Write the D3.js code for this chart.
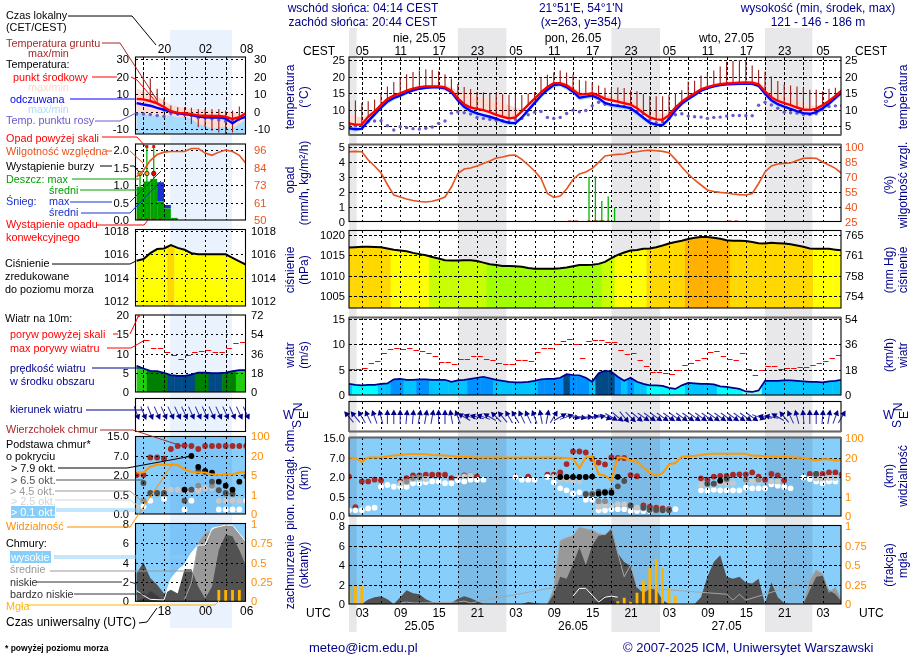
<!DOCTYPE html>
<html>
<head>
<meta charset="utf-8">
<script src="https://cdn.jsdelivr.net/npm/d3@7"></script>
<style>
  body { margin: 0; background: #fff; }
  svg { display: block; font-family: "Liberation Sans", Arial, sans-serif; font-size: 12px; }
</style>
</head>
<body>
<svg id="chart" width="910" height="660"></svg>
<script>
// ---- data, hourly, main panels (hour 1 = 01 UTC 25.05) ----
const tempMid = [5.8,5.4,5.5,7.8,9.4,11.4,13.2,14.2,14.9,15.7,
  16.3,16.8,17,17,17,16.7,15.7,13.4,11.6,10.6,
  10.2,9.8,9.2,8.4,7.8,7.3,7.6,9.4,11.4,13.3,
  15.2,16.8,18,18,17.3,16,14.5,14.6,14.9,14.2,
  13.2,12.8,12.4,11.9,11.5,10.4,8.9,7.6,7,6.9,
  8.3,10.6,12.4,13.7,14.9,16.1,16.8,17.3,17.7,17.9,
  18,18.1,18.2,18.1,17.6,15.5,13.7,12.6,11.9,11.3,
  10.6,10,9.9,10.2,11.3,12.6,14.1,15.8];
const tempMax = [8,8,7.6,8.4,9.9,11.8,13.6,14.6,15.2,16,
  16.6,17.1,17.4,17.5,17.6,17.4,16.8,15.6,14.8,14.3,
  13.9,13.5,13,12.7,12.2,11.3,10.5,10.2,11.8,13.7,
  15.6,17.2,18.3,18.4,18,17,15.6,15.2,15.4,15,
  14.2,14,13.8,13.4,13,12.2,11,9.8,9,8.6,
  9.2,11,12.8,14.1,15.3,16.5,17.2,17.7,18.1,18.4,
  18.6,18.7,18.8,18.7,18.3,17,15.7,14.7,14,13.4,
  12.8,12,11.3,11.1,11.8,13,14.5,16.1];
const feltMid = [4.3,4,4.2,6.5,8.5,10.6,12.4,13.5,14.2,15.1,
  15.8,16.3,16.6,16.7,16.7,16.4,15.3,12.8,10.8,9.6,
  8.8,8.3,7.8,7.2,6.5,6,5.9,7.6,9.8,12,
  14.2,16,17.4,17.6,16.8,15.4,13.6,13.9,14.2,13.4,
  12,11.4,11.1,10.8,10.4,9,7.5,6,5.4,5.3,
  7.2,9.8,11.8,13.2,14.4,15.7,16.5,17,17.4,17.6,
  17.7,17.8,17.9,17.8,17.2,14.8,12.8,11.6,10.9,10.2,
  9.5,8.9,8.7,9.2,10.4,11.8,13.5,15.2];
const feltMin = [3.6,3.3,3.6,5.7,7.7,9.9,11.6,12.8,13.6,14.5,
  15.3,15.8,16.2,16.3,16.3,15.8,14.6,12,9.9,8.7,
  8,7.5,7,6.4,5.7,5.2,5.2,6.8,9,11.2,
  13.4,15.2,16.6,17,16,14.6,12.8,13.1,13.4,12.6,
  11.2,10.6,10.3,10,9.5,8.1,6.6,5.2,4.6,4.6,
  6.4,9,11,12.5,13.8,15.2,16,16.6,17,17.2,
  17.3,17.4,17.5,17.4,16.6,14,12,10.9,10.2,9.5,
  8.8,8.2,8,8.4,9.6,11,12.7,14.4];
const groundMax = [12.5,12.7,12,12.5,13,14.6,17,18.3,19.5,20.7,
  21.4,21.8,22.2,22,21.6,20.7,19.4,17.7,16.8,16.2,
  15.3,15.2,15,14.8,14.6,14.5,14.4,14.4,14.8,15.3,
  19.5,20.5,21.2,21.8,21.2,20.6,19,18.7,18.2,17.3,
  16.6,16.5,16.7,16.5,15.8,15.5,14.7,14.1,14,14,
  14.4,15,15.8,18.5,18.7,20.3,21,21.8,23,24.5,
  24.7,25,24.8,23.3,22,21.5,20,18.6,17.6,17.3,
  17,16.5,16,16,15.5,16.3,16.6,16];
const dewPoint = [5.2,5,5.2,6.3,6.5,6.6,5.1,3.8,4.8,4.5,
  4.2,4.1,4.3,4.7,5.8,6.5,8.9,9.3,9,8.6,
  7.6,7.3,7,6.7,6.6,6.3,7,7.3,8.4,9.2,
  9.4,7.6,7.3,7.6,8.8,9.8,9.3,9.7,11.1,12.2,
  11.6,11.4,11.2,10.9,10.4,9.4,8.7,6.8,6,6.3,
  7.3,8.4,8.7,8,7.8,7.7,7.3,7.6,7.7,8,
  8.2,8.2,8.1,8.1,11.3,12.2,11.4,10.4,9.2,9,
  8.9,8.5,8.5,8.7,9.9,10.9,11.1,11.1];
const humidity = [95.3,95.6,95.3,87,81,74,62.5,52,50,48,
  46.5,45.5,45,45.8,47.4,50,60,73.5,78,79,
  81,83.6,86,89,90,91.6,92,87.6,82,76,
  68.5,53.5,49.5,51,58,67.5,73,75,78.6,84.6,
  91,92,92.6,93,94.6,95.3,96.3,96.7,96.3,95.6,
  94.3,87.6,80,73,67,62,57,55.5,54.6,54,
  53,52.4,52,53.5,63.5,75,81,83,83.6,84,
  86.6,88.6,89,88.6,85,82,78.6,73.5];
const rainMaxHours = [38.5,39.5,40.5,41.5,42.5];
const rainMaxValues = [3,3.05,1.4,1.7,1];
const rainMeanHours = [39.5,40.5];
const rainMeanValues = [0.1,0.1];
const convectiveHours = [35.5,36.5,38.5,39.5,40.5,41.5,60.5,61.5];
const pressure = [1016.9,1017,1017.1,1017.1,1017.05,1017,1016.7,1016.4,1016.2,1016,
  1015.6,1015.3,1015,1014.6,1014.2,1013.8,1013.7,1013.7,1013.8,1013.8,
  1013.6,1013.2,1012.8,1012.6,1012.4,1012.4,1012.3,1012.2,1011.9,1011.7,
  1011.7,1011.7,1011.7,1011.8,1012,1012.3,1012.6,1012.6,1012.7,1012.9,
  1013.4,1014.3,1015.1,1015.7,1016.2,1016.3,1016.6,1016.7,1017,1017.4,
  1017.9,1018.3,1018.6,1019,1019.3,1019.5,1019.5,1019.3,1019.1,1018.7,
  1018.6,1018.6,1018.5,1018.3,1018,1017.9,1018.1,1018,1017.9,1017.7,
  1017.4,1017.1,1016.7,1016.6,1016.6,1016.6,1016.4,1016.2];
const windSpeed = [2.2,2,1.9,2,2,2.2,2.3,3.1,3.2,3,
  3,3.1,3.1,3,3,3,2.6,2.9,3,3.2,
  3.4,3.6,3.3,3,2.8,2.6,2.5,2.5,2.6,2.8,
  3.1,3.2,3.2,3.4,4.1,3.95,3.9,3.4,2.6,4.3,
  4.8,4.6,3.6,2.8,3.4,2.6,2.2,1.9,1.9,1.8,
  1.4,1.2,1.9,2.4,2.3,2.2,2.2,2.1,1.7,1.6,
  1.4,1.2,0.7,0.6,0.9,2.8,2.8,2.8,2.9,2.9,
  2.8,2.7,2.6,2.6,2.5,2.7,2.8,3];
const windGust = [5.1,5.1,5.1,5.4,6.3,6.7,8.2,9,9.2,9,
  9.2,8.9,8.6,8.2,7.6,6.6,6.5,6.2,7.1,7.2,
  7.6,7.6,7.1,7,6.4,6.2,6.2,7,7,6.8,
  8.4,9.2,9.2,10,10.6,11,10,7.4,10.6,10.8,
  10.8,10.4,10.4,8.8,8.1,8.2,7,5.7,4.5,4.6,
  4.4,4.1,4.9,6,6.4,7,7.4,8.5,8.6,7.6,
  7.2,6.9,8.3,5.1,3.9,4.9,5.7,5.7,5.1,5.3,
  5.3,5.5,5.5,6,6.4,6.7,7.4,7.8];
// arrow heading in degrees, 0 = up
const windHeading = [-40,-40,-30,-25,-20,-15,0,0,0,5,
  5,10,10,10,0,0,-10,-20,-60,-70,
  -75,-70,-60,-45,-40,-30,-30,-25,-25,-20,
  -10,10,30,60,70,100,100,90,80,80,
  110,120,130,140,135,130,125,125,125,125,
  125,125,125,125,125,125,125,125,125,125,
  125,125,125,125,110,-80,-80,-60,-40,-25,
  -15,-5,0,0,5,10,20,30];
const cloudTop = [[1,2.1],[2,0.23],[3,1.67],[4,1.67],[5,1.8],[6,1.75],[9,1.67],[10,1.92],[11,2.4],[12,2.4],[13,2.6],[14,2.6],[15,2.6],[16,2.6],[17,1.92],[18,2.1],[19,2.4],[20,2.4],[21,2.1],[27,2.1],[29,2.1],[32,2.6],[33,2.6],[34,3.2],[35,5.4],[36,9.6],[37,9.6],[38,9.2],[39,6.8],[40,5.8],[41,5.3],[42,7.2],[43,7],[44,7],[45,2.5],[46,2.2],[47,0.28],[48,0.24],[49,0.22],[50,0.2],[51,0.18],[56,1.9],[57,1.8],[58,2.1],[59,2.3],[60,2.3],[61,2.6],[62,2.7],[63,2.7],[64,3.2],[65,2.1],[66,1.8],[67,2.8],[68,2.4],[69,1.75],[73,2.8],[74,2.8],[75,2.8],[76,3.2],[77,3.2],[78,2.7]];
const baseOver01 = [[1,0.15],[2,0.15],[3,0.15],[4,0.2],[5,0.22],[6,1.27],[7,1.4],[8,1.27],[9,1.27],[10,1.27],[11,1.53],[12,1.53],[13,1.6],[14,1.67],[15,1.67],[16,1.53],[17,1.53],[18,1.75],[19,1.67],[20,1.8],[21,1.8],[22,1.8],[27,2],[28,1.8],[29,1.8],[30,1.8],[32,2],[33,1.6],[34,1.15],[35,1],[36,0.75],[37,0.85],[38,0.43],[39,0.43],[40,0.15],[41,0.15],[42,0.18],[43,0.18],[44,0.18],[45,0.13],[46,0.13],[47,0.13],[48,0.13],[51,0.15],[52,0.18],[56,1],[57,0.97],[58,1.05],[59,1],[60,1],[61,1],[62,1],[63,1.2],[64,1.15],[65,1.15],[66,1.15],[67,1.45],[68,1.35],[69,1.25],[70,1.15],[72,1.97],[73,1.85],[74,1.67],[75,1.53],[76,1.67],[77,1.67]];
const baseOver25 = [[9,1.53],[10,1.6],[11,1.85],[12,1.85],[13,1.85],[18,2.15],[19,2.15],[20,2.4],[33,2.1],[34,1.8],[35,1.8],[36,1.67],[37,1.67],[38,0.75],[39,0.75],[40,0.24],[41,0.28],[42,0.28],[43,0.31],[44,0.31],[45,0.28],[46,0.22],[47,0.2],[48,0.15],[56,1.4],[57,1.4],[58,1.4],[59,1.53],[60,1.53],[61,1.53],[63,1.67],[64,1.67],[65,1.67],[67,1.67],[68,1.67],[74,1.88],[75,1.88],[76,1.92],[77,1.92]];
const baseOver45 = [[10,1.67],[11,1.92],[12,1.98],[38,0.75],[39,0.75],[40,0.39],[41,0.39],[42,1],[45,0.28],[47,0.22],[49,0.15],[57,1.5],[58,1.5],[60,1.8],[63,1.8],[65,1.8]];
const baseOver65 = [[38,0.72],[39,0.72],[40,0.9],[41,0.9],[43,1.3],[44,1.7],[45,0.28],[47,0.22],[48,0.16],[49,0.16],[50,0.15],[51,0.15],[57,1.5],[58,1.5],[60,1.9],[74,2.8]];
const baseOver79 = [[34,2],[35,2],[36,2],[37,2],[38,2],[39,2.1],[40,0.75],[41,0.82],[42,0.82],[43,2.05],[59,1.72]];
const visibility = [21,20,17,22,22,23,26,30,32,35,
  36,36,35,32,31,30,28,25,24,24,
  22,22,22,22,22,22,22,22,22,22,
  22,22,22,21,20,19.5,12,23,25,7.3,
  6,4.3,22,21,18,17,12.5,8.5,6,8,
  15,16,25,27,29,32,36,37,37,37,
  37,37,37,29,30,27,26,25,24,23,
  22,20,19,18,19,19,18,18.5];
const cloudLow = [0,0,0,0.45,0.7,0.8,0.5,0,0.7,1.4,
  1.1,1,0.5,0.2,0.1,0.1,0.1,0.55,0.8,0.6,
  0.3,0,0,0,0,0,0,0,0.2,0.1,
  0,0,1,2.8,2.6,4.1,5.8,4,6,7,
  7.1,7.8,5.2,4.3,3.9,1.7,1.1,1.6,1.5,0.4,
  0,0,0,0,0,0.7,2.8,4.3,5,2.8,
  2.6,2.8,2.2,2.1,2.6,0,2.2,0.7,0.1,0,
  0,0,1.4,2.8,2.9,1.4,1,0.2];
const cloudMid = [0,0,0,0,0,0,0,0,0.1,0.2,
  0.1,0.1,0,0,0,0,0,0.2,0.3,0.1,
  0,0,0,0,0,0,0,0,0,0,
  0,0,1.7,6.5,6.8,7,7.9,7.7,7.6,7.2,
  7.1,7.7,5.2,2.8,4,1.7,0,0,0,0,
  0,0,0,0,0,0,0,0,0,1,
  0.4,1,0.4,0,0,0,0,0,0,0,
  0,0,2.4,3.5,3.1,1.2,1.7,0.3];
const cloudHigh = [0,0,0,0,0,0,0,0,0,0,
  0,0,0,0,0,0,0,0,0,0,
  0,0,0,0,0,0,0,0,0,0,
  0,0,0,0,0,0.8,1.6,1.6,0.9,0.2,
  0.7,0.8,0.7,0,0,0,0,0,0,0,
  0,0,0,0,0,0,0,0,0,0,
  0,0,0,0,0,0,0,0,0,0,
  0,0,0,0,0,0,0,0];
const cloudVeryLowHours = [39,40,41,42,43];
const cloudVeryLowValues = [0,0.4,0.9,0.6,0];
const fogHours = [1,2,3,43,44,45,46,47,48,49,50,51,52];
const fogValues = [0.2,0.23,0.23,0.035,0.08,0.03,0.145,0.3,0.46,0.58,0.46,0.2,0.1];

// ---- narrow panels on the left, the legend sample (hour 14 = 14 UTC) ----
const legendHours = [14,15,16,17,18,19,20,21,22,23,24,25,26,27,28,29,30];
const legendTempMid = [7.2,6.9,6,4.6,2.6,0.2,-0.8,-1,-1.5,-2.2,-2.4,-2.6,-2.6,-3,-4.3,-3.3,-0.8];
const legendTempMax = [13,11.6,10,8.5,6.3,3.8,2.9,2.1,1.5,1.2,1,0.6,0.4,0.2,-0.4,-1,-0.4];
const legendFeltMid = [4.8,4,3.3,2.1,1,0,-1,-1.4,-2,-2.9,-3.3,-3.5,-3.3,-4,-6.8,-4.2,-2.9];
const legendFeltTop = [-0.4,-0.8,-2.3,-2.3,-3.3,-2.3,-3.3,-3.3,-4.2,-7.1,-8,-10,-9,-9,-10,-7.1,-4.2];
const legendGroundHours = [15,16,17,18,19,20,21,22,23,24,25,26,27,28,29];
const legendGroundMax = [20.8,18.8,13,7.3,3.5,2.5,2.5,2.1,1.5,1.5,1.5,1.5,0.6,0.6,2.9];
const legendGroundMin = [6.3,6.3,4.4,-0.4,-2.3,-2.3,-3.3,-7.1,-9,-9,-11,-12,-12.9,-12,-5.2];
const legendDew = [-1.4,-1.4,-1.7,-2.3,-2.7,-1,-1.4,-1.7,-2.3,-3.6,-3.6,-4.2,-4.8,-5.6,-5.6,-4.2,-3];
const legendHumidity = [78.3,82.7,89,93,94.6,95,95,95,97,97,94,92.5,94.6,96,95,92.5,87];
const legendRainHours = [14,15,16,17,18,19];
const legendRainMean = [0.95,1.1,1.17,0.53,0.33,0.06];
const legendSnowTop = [0,0,0,1.08,0.43,0];
const legendRainMaxHours = [14.5,15.5,16.5];
const legendRainMax = [1.38,2.1,2.1];
const legendOverScaleHours = [15.5,16.5];
const legendStormHours = [14.5,15.5,16.5];
const legendStormColors = ["#ffe600","#ffa500","#ff0000"];
const legendStormLevel = 1.33;
const legendConvective = [14.5,15.5,16.5,17.5];
const legendPressure = [1015.45,1015.6,1016.1,1016.45,1016.5,1016.8,1016.55,1016.4,1016.1,1016,1016,1016,1016,1016,1015.7,1015.4,1015.1];
const legendWind = [6.8,6.1,5.5,5.4,5,4.4,4.2,4.2,4.5,5.05,5.05,4.9,4.9,5.05,5.4,5.7,5.7];
const legendGust = [null,null,13.5,11.5,11.3,10.4,9.5,8.7,9.7,10.4,10.7,10.8,10.4,10.4,11.5,12.7,12.9];
const legendHeading = [160,158,158,156,156,155,155,155,156,156,156,155,155,156,156,155,155];
const legendTop = [[14,2],[15,2],[16,6.6],[17,6.6],[18,6.3],[19,9.8],[20,11],[21,11.2],[22,11],[23,9.8],[24,11],[25,11],[26,11],[27,11],[28,11],[29,11],[30,11]];
const legendOver01 = [[15,0.2],[16,0.35],[18,0.4],[21,0.12],[22,0.35],[23,0.9],[26,0.12],[27,0.12],[28,0.12],[29,0.12],[30,0.35]];
const legendOver25 = [[14,0.2],[18,0.9],[19,0.9],[20,0.9],[21,0.8],[22,0.8],[23,0.8],[24,1],[25,1],[26,0.35],[27,0.35],[28,0.35],[29,0.35],[30,1.6]];
const legendOver45 = [[15,0.35],[16,0.6],[17,0.6],[18,0.6],[21,0.9],[22,0.9],[23,1.2],[25,1.2],[26,0.9],[27,0.6],[28,0.55]];
const legendOver65 = [[15,1.4],[16,0.65],[17,0.65],[18,0.65],[21,0.35],[22,0.9],[23,3],[24,2.8],[25,1.5],[26,0.85],[27,0.65],[28,0.6],[30,1.9]];
const legendOver79 = [[21,0.9],[22,7],[23,4.1],[24,3.1],[25,2.6],[26,1.5],[27,1.2],[28,0.9],[29,1.5]];
const legendVisibility = [7,7,11.5,13,13,13,13,9.5,7.5,7,7,5.5,5,5.4,5.4,7,7.5];
const legendLow = [2.9,4,2.4,1.7,0.8,1.2,0.8,3.3,3.3,1.5,0.3,1.5,5.3,6.85,6.7,5.3,3.6];
const legendMid = [0,0,0,0,0,0,0,0.2,1.9,6,7,7.3,7.85,7.9,7.85,7,6.1];
const legendHigh = [1.1,0.6,0.2,0,0.14,2.3,3.2,3.8,5,5.8,5.8,7.5,7.7,7.85,7.85,7,6.1];
const legendVeryLow = [0,0.3,1.07,0.6,0,0,0,0,0,0,0,0,0,0,0,0,0];
const legendFogHours = [26,27,28,29];
const legendFogValues = [0.146,0.146,0.146,0.146];

// ---- tick labels ----
const cestLabels = ["05","11","17","23","05","11","17","23","05","11","17","23","05"];
const utcLabels = ["03","09","15","21","03","09","15","21","03","09","15","21","03"];
const labelHours = [3,9,15,21,27,33,39,45,51,57,63,69,75];
const dayLabels = ["25.05","26.05","27.05"];
const weekLabels = ["nie, 25.05","pon, 26.05","wto, 27.05"];
const dayHours = [12,36,60];
const nightBands = [[1,2.2],[18,25.6],[42,49.6],[66,73.4]];

const hoursMain = d3.range(1, 79);
const pairs = (hs, vs) => hs.map((h, i) => [h, vs[i]]);

const NAVY = "#00008b", RHC = "#e8531f", ORANGE = "#ff8c00", GOLD = "#ffb400",
  BROWN = "#a52a2a", SLATE = "#6a5acd", SKY = "#87cefa";

const pressColor = d3.scaleThreshold([1013, 1015, 1016.65, 1018.65],
  ["#a0ff00", "#c8ff00", "#ffff00", "#ffd800", "#ffb000"]);
const windColor = d3.scaleThreshold([1, 2.1, 3.05, 3.97, 5, 5.6],
  ["#80ffee", "#00ffff", "#00c4ff", "#0090ff", "#004a88", "#008000", "#22cc11"]);

const svg = d3.select("#chart");

function text(g, x, y, str, opt = {}) {
  const t = g.append("text").attr("x", x).attr("y", y).text(str)
    .attr("fill", opt.color || "#000")
    .attr("text-anchor", opt.anchor || "start")
    .attr("font-size", opt.size || 12);
  if (opt.bold) t.attr("font-weight", "bold");
  if (opt.rotate) t.attr("transform", `rotate(-90 ${x} ${y})`).attr("text-anchor", "middle");
  return t;
}

// left or right tick labels through d3.axis
function yAxis(scale, vals, labels, x, side, color) {
  const axis = (side === "left" ? d3.axisLeft(scale) : d3.axisRight(scale))
    .tickValues(vals).tickSize(0).tickPadding(0)
    .tickFormat((d, i) => labels[i]);
  const g = svg.append("g").attr("transform", `translate(${x},0)`).call(axis);
  g.select(".domain").remove();
  g.selectAll("text").attr("fill", color || "#000")
    .attr("font-size", 11.2).attr("font-family", "Liberation Sans");
}

function xAxis(scale, vals, labels, y) {
  const g = svg.append("g").attr("transform", `translate(0,${y})`)
    .call(d3.axisBottom(scale).tickValues(vals).tickSize(0).tickPadding(0)
      .tickFormat((d, i) => labels[i]));
  g.select(".domain").remove();
  g.selectAll("text").attr("fill", "#000").attr("font-size", 12)
    .attr("font-family", "Liberation Sans");
}

let clipId = 0;
function drawSide(s) {
  const x = s.x;
  const panels = {};
  const bgLayer = svg.append("g");
  const bandLayer = svg.append("g").style("mix-blend-mode", "multiply");
  s.bands.forEach((b) => {
    bandLayer.append("rect").attr("x", b[0]).attr("width", b[1] - b[0])
      .attr("y", s.bandY[0]).attr("height", s.bandY[1] - s.bandY[0]).attr("fill", s.bandFill);
  });

  // backgrounds first, contents in a clipped group above the night band
  Object.keys(s.box).forEach((key) => {
    const [top, bottom] = s.box[key];
    const skyPanel = key === "base" || key === "cloud";
    bgLayer.append("rect").attr("x", s.left).attr("y", top)
      .attr("width", s.right - s.left).attr("height", bottom - top)
      .attr("fill", skyPanel ? SKY : "#fff");
    const id = `clip${clipId++}`;
    svg.append("clipPath").attr("id", id).append("rect")
      .attr("x", s.left).attr("y", top).attr("width", s.right - s.left).attr("height", bottom - top);
    panels[key] = svg.append("g").attr("clip-path", `url(#${id})`);
  });

  const line = (yS) => d3.line().x((d) => x(d[0])).y((d) => yS(d[1]));
  const band = (yS, lo) => d3.area().x((d) => x(d[0])).y0((d) => yS(lo(d))).y1((d) => yS(d[1]));
  const grid = (g, key, ticks, yS) => {
    const [top, bottom] = s.box[key];
    const gl = g.append("g").attr("stroke", "#000").attr("stroke-width", 1)
      .attr("stroke-dasharray", "2.5,2.5").attr("shape-rendering", "crispEdges");
    s.gridHours.forEach((h) => gl.append("line").attr("x1", Math.round(x(h)) + 0.5).attr("x2", Math.round(x(h)) + 0.5)
      .attr("y1", top).attr("y2", bottom));
    ticks.forEach((v) => gl.append("line").attr("x1", s.left).attr("x2", s.right)
      .attr("y1", Math.round(yS(v)) + 0.5).attr("y2", Math.round(yS(v)) + 0.5));
  };

  // temperature
  let g = panels.temp, y = s.y.temp;
  const hs = s.hours;
  const tempPts = pairs(hs, s.tempMid), maxPts = pairs(hs, s.tempMax), feltPts = pairs(hs, s.feltMid);
  g.append("path").attr("fill", "#ffdcd2")
    .attr("d", d3.area().x((d) => x(d[0])).y0((d, i) => s.pinkToFloor ? y.range()[0] + 50 : y(s.tempMid[i])).y1((d) => y(d[1]))(maxPts));
  g.append("path").attr("fill", "#a8dcff")
    .attr("d", d3.area().x((d) => x(d[0])).y0((d, i) => s.pinkToFloor ? y.range()[0] + 50 : y(s.feltBand[i])).y1((d, i) => s.pinkToFloor ? y(s.feltBand[i]) : y(d[1]))(feltPts));
  grid(g, "temp", s.ticks.temp, y);
  g.append("g").selectAll("line").data(s.ground).join("line")
    .attr("x1", (d) => x(d[0])).attr("x2", (d) => x(d[0]))
    .attr("y1", (d) => y(d[1])).attr("y2", (d) => y(d[2]))
    .attr("stroke", "#9c1c1c").attr("stroke-width", 1.1);
  g.append("g").selectAll("circle").data(pairs(hs, s.dew)).join("circle")
    .attr("cx", (d) => x(d[0])).attr("cy", (d) => y(d[1])).attr("r", 1.7).attr("fill", SLATE);
  g.append("path").attr("fill", "none").attr("stroke", "#0000ff").attr("stroke-width", 2.4).attr("d", line(y)(feltPts));
  g.append("path").attr("fill", "none").attr("stroke", "#ff0000").attr("stroke-width", 2.4).attr("d", line(y)(tempPts));

  // precipitation and humidity
  g = panels.rain; y = s.y.rain;
  if (s.rainBars) {
    s.rainBars.forEach((d) => {
      const bw = x(d[0] + 1) - x(d[0]);
      if (d[2] > d[1]) g.append("rect").attr("x", x(d[0])).attr("width", bw).attr("y", y(d[2])).attr("height", y(d[1]) - y(d[2])).attr("fill", "#1a30d0");
      g.append("rect").attr("x", x(d[0])).attr("width", bw).attr("y", y(d[1])).attr("height", y(0) - y(d[1])).attr("fill", "#00a000");
    });
  }
  s.rainMean.forEach((d) => g.append("rect").attr("x", x(d[0] - 0.5)).attr("width", x(d[0] + 0.5) - x(d[0] - 0.5))
    .attr("y", y(d[1])).attr("height", y(0) - y(d[1])).attr("fill", "#00a000"));
  grid(g, "rain", s.ticks.rain, y);
  s.rainMax.forEach((d) => g.append("line").attr("x1", x(d[0])).attr("x2", x(d[0])).attr("y1", y(0)).attr("y2", y(d[1]))
    .attr("stroke", "#00b400").attr("stroke-width", 1.3));
  s.convective.forEach((h) => g.append("rect").attr("x", x(h) - 1.5).attr("y", y(0) - 1.5).attr("width", 3).attr("height", 3).attr("fill", "#e00000"));
  (s.overScale || []).forEach((h) => g.append("rect").attr("x", x(h) - 1.5).attr("y", y(2.14)).attr("width", 3).attr("height", 3).attr("fill", "#ff0000"));
  (s.storm || []).forEach((d) => g.append("circle").attr("cx", x(d[0])).attr("cy", y(d[1])).attr("r", 2.2).attr("fill", d[2]).attr("stroke", "#000").attr("stroke-width", 0.7));
  g.append("path").attr("fill", "none").attr("stroke", RHC).attr("stroke-width", 1.6).attr("d", line(s.y.rh)(pairs(hs, s.humidity)));

  // pressure with coloured steps
  g = panels.press; y = s.y.press;
  const pressPts = pairs(hs, s.pressure);
  const areaId = `clip${clipId++}`;
  svg.append("clipPath").attr("id", areaId).append("path")
    .attr("d", band(y, () => y.domain()[0] - 5)(pressPts));
  const steps = g.append("g").attr("clip-path", `url(#${areaId})`);
  steps.selectAll("rect").data(pressPts).join("rect")
    .attr("x", (d) => x(d[0] - 0.5)).attr("width", x(1) - x(0) + 0.5)
    .attr("y", s.box.press[0]).attr("height", s.box.press[1] - s.box.press[0])
    .attr("fill", (d) => pressColor(d[1]));
  grid(g, "press", s.ticks.press, y);
  g.append("path").attr("fill", "none").attr("stroke", "#000").attr("stroke-width", 2).attr("d", line(y)(pressPts));

  // wind speed and gusts
  g = panels.wind; y = s.y.wind;
  const windPts = pairs(hs, s.wind);
  const windId = `clip${clipId++}`;
  svg.append("clipPath").attr("id", windId).append("path").attr("d", band(y, () => 0)(windPts));
  g.append("g").attr("clip-path", `url(#${windId})`).selectAll("rect").data(windPts).join("rect")
    .attr("x", (d) => x(d[0] - 0.5)).attr("width", x(1) - x(0) + 0.5)
    .attr("y", s.box.wind[0]).attr("height", s.box.wind[1] - s.box.wind[0])
    .attr("fill", (d) => windColor(d[1]));
  grid(g, "wind", s.ticks.wind, y);
  g.append("g").selectAll("line").data(pairs(hs, s.gust).filter((d) => d[1] !== null)).join("line")
    .attr("x1", (d) => x(d[0] - 0.5) - 2.7).attr("x2", (d) => x(d[0] - 0.5) + 2.7)
    .attr("y1", (d) => Math.round(y(d[1])) + 0.5).attr("y2", (d) => Math.round(y(d[1])) + 0.5)
    .attr("stroke", "#ff0000").attr("stroke-width", 1);
  g.append("path").attr("fill", "none").attr("stroke", "#00008b").attr("stroke-width", 1.7).attr("d", line(y)(windPts));

  // wind direction, not clipped: the arrows run past the frame
  g = panels.dir;
  grid(g, "dir", [], y);
  const arrows = svg.append("g").selectAll("g").data(pairs(hs, s.heading)).join("g")
    .attr("transform", (d) => `translate(${x(d[0])},${s.dirY}) rotate(${d[1]})`);
  arrows.append("line").attr("y1", 7).attr("y2", -4).attr("stroke", "#2a2aa8").attr("stroke-width", 1);
  arrows.append("path").attr("d", "M0,-7.5L3,-2L-3,-2Z").attr("fill", NAVY);

  // cloud base dots with visibility
  g = panels.base; y = s.y.base;
  const dotLayer = [[s.top, BROWN], [s.over01, "#fff"], [s.over25, "#c8c8c8"], [s.over45, "#8c8c8c"], [s.over65, "#505050"], [s.over79, "#000"]];
  dotLayer.forEach(([pts, color]) => {
    g.append("g").selectAll("circle").data(pts).join("circle")
      .attr("cx", (d) => x(d[0])).attr("cy", (d) => y(d[1])).attr("r", 2.9).attr("fill", color);
  });
  grid(g, "base", s.ticks.base, y);
  g.append("path").attr("fill", "none").attr("stroke", "#ff9900").attr("stroke-width", 2).attr("d", line(s.y.vis)(pairs(hs, s.visibility)));

  // cloud cover
  g = panels.cloud; y = s.y.cloud;
  const layer = (vals, fill) => g.append("path").attr("fill", fill).attr("d", band(y, () => 0)(pairs(hs, vals)));
  layer(s.high, "#fff"); layer(s.mid, "#999999"); layer(s.low, "#525252");
  const vl = s.veryLow;
  g.append("path").attr("fill", "#3c3c3c").attr("d", band(y, () => 0)(vl));
  grid(g, "cloud", s.ticks.cloud, y);
  g.append("path").attr("fill", "none").attr("stroke", "#a6a6a6").attr("stroke-width", 1).attr("d", line(y)(pairs(hs, s.mid).filter((d) => d[1] > 0)));
  g.append("path").attr("fill", "none").attr("stroke", "#fff").attr("stroke-width", 1).attr("d", line(y)(pairs(hs, s.high).filter((d) => d[1] > 0)));
  g.append("g").selectAll("rect").data(s.fog).join("rect")
    .attr("x", (d) => x(d[0]) - s.fogWidth / 2).attr("width", s.fogWidth)
    .attr("y", (d) => s.y.fog(d[1])).attr("height", (d) => s.y.fog(0) - s.y.fog(d[1]))
    .attr("fill", GOLD);

  // frames
  Object.keys(s.box).forEach((key) => {
    const [top, bottom] = s.box[key];
    svg.append("rect").attr("x", s.left).attr("y", top)
      .attr("width", s.right - s.left).attr("height", bottom - top)
      .attr("fill", "none").attr("stroke", "#000").attr("stroke-width", 1.1);
  });
}

// ---- main panels ----
const mainX = d3.scaleLinear([1, 78], [349, 841.8]);
const mainTemp = d3.scaleLinear([5, 25], [126, 60]);
const mainRain = d3.scaleLinear([0, 5], [222, 147]);
const mainRh = d3.scaleLinear([25, 100], [222, 147]);
const mainPress = d3.scaleLinear([1005, 1020], [296, 235]);
const mainWind = d3.scaleLinear([0, 15], [395, 319]);
const mainBase = d3.scaleLinear([0, 0.5, 2, 7, 15], [516, 497, 477, 458, 438]);
const mainVis = d3.scaleLinear([0, 1, 5, 20, 100], [516, 497, 477, 458, 438]);
const mainCloud = d3.scaleLinear([0, 8], [604, 526]);
const mainFog = d3.scaleLinear([0, 1], [604, 526]);

drawSide({
  x: mainX, left: 349, right: 841, hours: hoursMain,
  gridHours: d3.range(3, 78, 3),
  bands: nightBands.map((b) => [mainX(b[0]), mainX(b[1])]),
  bandY: [28, 632], bandFill: "#e8e8ea",
  box: { temp: [57, 135], rain: [144.5, 221.5], press: [230.5, 308], wind: [317.5, 395], dir: [401.5, 431.5], base: [437.5, 516], cloud: [525.5, 604] },
  y: { temp: mainTemp, rain: mainRain, rh: mainRh, press: mainPress, wind: mainWind, base: mainBase, vis: mainVis, cloud: mainCloud, fog: mainFog },
  ticks: { temp: [5, 10, 15, 20, 25], rain: [1, 2, 3, 4, 5], press: [1005, 1010, 1015, 1020], wind: [5, 10, 15], base: [0.5, 2, 7], cloud: [2, 4, 6] },
  tempMid, tempMax, feltMid, feltBand: feltMin, pinkToFloor: false,
  ground: hoursMain.map((h, i) => [h, groundMax[i], tempMid[i]]),
  dew: dewPoint, humidity,
  rainMean: pairs(rainMeanHours, rainMeanValues),
  rainMax: pairs(rainMaxHours, rainMaxValues),
  convective: convectiveHours,
  pressure, wind: windSpeed, gust: windGust, heading: windHeading, dirY: 417,
  top: cloudTop, over01: baseOver01, over25: baseOver25, over45: baseOver45, over65: baseOver65, over79: baseOver79,
  visibility, low: cloudLow, mid: cloudMid, high: cloudHigh,
  veryLow: pairs(cloudVeryLowHours, cloudVeryLowValues),
  fog: pairs(fogHours, fogValues), fogWidth: 2.8
});

// heavier grey rules on some frames of the main panels
[135, 144.5, 317.5, 431.5, 437.5].forEach((ry) => {
  svg.append("line").attr("x1", 349).attr("x2", 841).attr("y1", ry).attr("y2", ry)
    .attr("stroke", "#666").attr("stroke-width", 2);
});

// ---- legend panels ----
const legX = d3.scaleLinear([14, 30], [136.6, 246.2]);
const legTemp = d3.scaleLinear([-10, 30], [129, 59]);
const legRain = d3.scaleLinear([0, 2], [220, 150]);
const legRh = d3.scaleLinear([50, 96], [220, 150]);
const legPress = d3.scaleLinear([1012, 1018], [301, 231]);
const legWind = d3.scaleLinear([0, 20], [392, 315]);
const legBase = d3.scaleLinear([0, 0.5, 2, 7, 15], [514, 495, 475, 456, 436]);
const legVis = d3.scaleLinear([0, 1, 5, 20, 100], [514, 495, 475, 456, 436]);
const legCloud = d3.scaleLinear([0, 8], [601.3, 523.7]);
const legFog = d3.scaleLinear([0, 1], [601.3, 523.7]);

drawSide({
  x: legX, left: 135.5, right: 245.5, hours: legendHours,
  gridHours: [15, 18, 21, 24, 27],
  bands: [[170, 232]], bandY: [30, 628], bandFill: "#eaf2fd",
  box: { temp: [57, 134], rain: [144, 220], press: [229.5, 306], wind: [315, 392], dir: [398.5, 431.5], base: [436.5, 514], cloud: [523.5, 601.3] },
  y: { temp: legTemp, rain: legRain, rh: legRh, press: legPress, wind: legWind, base: legBase, vis: legVis, cloud: legCloud, fog: legFog },
  ticks: { temp: [-10, 0, 10, 20, 30], rain: [0.5, 1, 1.5, 2], press: [1012, 1014, 1016, 1018], wind: [5, 10, 15], base: [0.5, 2, 7], cloud: [2, 4, 6] },
  tempMid: legendTempMid, tempMax: legendTempMax, feltMid: legendFeltMid, feltBand: legendFeltTop, pinkToFloor: true,
  ground: legendGroundHours.map((h, i) => [h, legendGroundMax[i], legendGroundMin[i]]),
  dew: legendDew, humidity: legendHumidity,
  rainBars: legendRainHours.map((h, i) => [h, legendRainMean[i], legendSnowTop[i]]),
  rainMean: [],
  rainMax: pairs(legendRainMaxHours, legendRainMax),
  convective: legendConvective,
  overScale: legendOverScaleHours,
  storm: legendStormHours.map((h, i) => [h, legendStormLevel, legendStormColors[i]]),
  pressure: legendPressure, wind: legendWind, gust: legendGust, heading: legendHeading, dirY: 413,
  top: legendTop, over01: legendOver01, over25: legendOver25, over45: legendOver45, over65: legendOver65, over79: legendOver79,
  visibility: legendVisibility, low: legendLow, mid: legendMid, high: legendHigh,
  veryLow: pairs(legendHours, legendVeryLow),
  fog: pairs(legendFogHours, legendFogValues), fogWidth: 2.8
});
// above-scale gust marker in the wind legend
svg.append("circle").attr("cx", legX(14.3)).attr("cy", legWind(20) + 1).attr("r", 1.3).attr("fill", "#ff0000");

// ---- tick labels ----
yAxis(mainTemp, [5, 10, 15, 20, 25], ["5", "10", "15", "20", "25"], 345, "left");
yAxis(mainTemp, [5, 10, 15, 20, 25], ["5", "10", "15", "20", "25"], 845, "right");
yAxis(mainRain, [0, 1, 2, 3, 4, 5], ["0", "1", "2", "3", "4", "5"], 345, "left");
yAxis(mainRh, [25, 40, 55, 70, 85, 100], ["25", "40", "55", "70", "85", "100"], 845, "right", RHC);
yAxis(mainPress, [1005, 1010, 1015, 1020], ["1005", "1010", "1015", "1020"], 345, "left");
yAxis(mainPress, [1005, 1010, 1015, 1020], ["754", "758", "761", "765"], 845, "right");
yAxis(mainWind, [0, 5, 10, 15], ["0", "5", "10", "15"], 345, "left");
yAxis(mainWind, [0, 5, 10, 15], ["0", "18", "36", "54"], 845, "right");
yAxis(mainBase, [0, 0.5, 2, 7, 15], ["0.0", "0.5", "2.0", "7.0", "15.0"], 345, "left");
yAxis(mainVis, [0, 1, 5, 20, 100], ["0", "1", "5", "20", "100"], 845, "right", ORANGE);
yAxis(mainCloud, [0, 2, 4, 6, 8], ["0", "2", "4", "6", "8"], 345, "left");
yAxis(mainFog, [0, 0.25, 0.5, 0.75, 1], ["0", "0.25", "0.5", "0.75", "1"], 845, "right", ORANGE);

yAxis(legTemp, [-10, 0, 10, 20, 30], ["-10", "0", "10", "20", "30"], 129, "left");
yAxis(legTemp, [-10, 0, 10, 20, 30], ["-10", "0", "10", "20", "30"], 254, "right");
yAxis(legRain, [0, 0.5, 1, 1.5, 2], ["0.0", "0.5", "1.0", "1.5", "2.0"], 129, "left");
yAxis(legRain, [0, 0.5, 1, 1.5, 2], ["50", "61", "73", "84", "96"], 254, "right", RHC);
yAxis(legPress, [1012, 1014, 1016, 1018], ["1012", "1014", "1016", "1018"], 129, "left");
yAxis(legPress, [1012, 1014, 1016, 1018], ["1012", "1014", "1016", "1018"], 251, "right");
yAxis(legWind, [0, 5, 10, 15, 20], ["0", "5", "10", "15", "20"], 129, "left");
yAxis(legWind, [0, 5, 10, 15, 20], ["0", "18", "36", "54", "72"], 251, "right");
yAxis(legBase, [0, 0.5, 2, 7, 15], ["0.0", "0.5", "2.0", "7.0", "15.0"], 129, "left");
yAxis(legVis, [0, 1, 5, 20, 100], ["0", "1", "5", "20", "100"], 251, "right", ORANGE);
yAxis(legCloud, [0, 2, 4, 6, 8], ["0", "2", "4", "6", "8"], 129, "left");
yAxis(legFog, [0, 0.25, 0.5, 0.75, 1], ["0", "0.25", "0.5", "0.75", "1"], 251, "right", ORANGE);

xAxis(mainX, labelHours, cestLabels, 46);
xAxis(mainX, labelHours, utcLabels, 608);
xAxis(legX, [18, 24, 30], ["20", "02", "08"], 44);
xAxis(legX, [18, 24, 30], ["18", "00", "06"], 606);

const T = svg.append("g");
weekLabels.forEach((d, i) => text(T, mainX(dayHours[i]), 42, d, { anchor: "middle" }));
dayLabels.forEach((d, i) => text(T, mainX(dayHours[i]), 630, d, { anchor: "middle" }));
text(T, 303, 55, "CEST"); text(T, 855, 55, "CEST");
text(T, 306, 617, "UTC"); text(T, 859, 617, "UTC");

// header and footer
text(T, 363, 12, "wschód słońca: 04:14 CEST", { color: NAVY, anchor: "middle" });
text(T, 363, 26, "zachód słońca: 20:44 CEST", { color: NAVY, anchor: "middle" });
text(T, 581, 12, "21°51'E, 54°1'N", { color: NAVY, anchor: "middle" });
text(T, 581, 26, "(x=263,  y=354)", { color: NAVY, anchor: "middle" });
text(T, 818, 12, "wysokość (min, środek, max)", { color: NAVY, anchor: "middle" });
text(T, 818, 26, "121 - 146 - 186 m", { color: NAVY, anchor: "middle" });
text(T, 309, 652, "meteo@icm.edu.pl", { color: NAVY, size: 13 });
text(T, 623, 652, "© 2007-2025 ICM, Uniwersytet Warszawski", { color: NAVY, size: 13 });
text(T, 5, 651, "* powyżej poziomu morza", { size: 8.5, bold: true });

// rotated panel titles
const rot = { color: NAVY, rotate: true };
[[294, 97, "temperatura"], [308, 97, "(°C)"], [294, 180, "opad"], [308, 183, "(mm/h, kg/m²/h)"],
 [294, 270, "ciśnienie"], [308, 270, "(hPa)"], [294, 355, "wiatr"], [308, 355, "(m/s)"],
 [294, 478, "pion. rozciągł. chm."], [308, 478, "(km)"], [294, 572, "zachmurzenie"], [308, 565, "(oktanty)"],
 [893, 97, "(°C)"], [907, 97, "temperatura"], [893, 185, "(%)"], [907, 185, "wilgotność wzgl."],
 [893, 270, "(mm Hg)"], [907, 270, "ciśnienie"], [893, 355, "(km/h)"], [907, 355, "wiatr"],
 [893, 476, "(km)"], [907, 476, "widzialność"], [893, 565, "(frakcja)"], [907, 565, "mgła"]
].forEach((d) => text(T, d[0], d[1], d[2], rot));

// compass roses
[283, 883].forEach((cx) => {
  text(T, cx, 419, "W", { color: NAVY, size: 12 });
  text(T, cx + 19, 407, "N", { color: NAVY, rotate: true, size: 12 });
  text(T, cx + 25, 415, "E", { color: NAVY, rotate: true, size: 12 });
  text(T, cx + 18, 424, "S", { color: NAVY, rotate: true, size: 12 });
});

// ---- legend texts ----
const L = (x, y, s, color) => text(T, x, y, s, { color, size: 10.8 });
L(6, 19, "Czas lokalny"); L(6, 31, "(CET/CEST)");
L(6, 47, "Temperatura gruntu", BROWN); L(28, 57, "max/min", BROWN);
L(6, 68, "Temperatura:"); L(13, 81, "punkt środkowy", "#ff0000");
L(28, 91, "max/min", "#ffd8c8"); L(10, 103, "odczuwana", "#0000ff");
L(28, 113, "max/min", "#aaddff"); L(6, 124, "Temp. punktu rosy", SLATE);
L(6, 142, "Opad powyżej skali", "#ff0000"); L(6, 155, "Wilgotność względna", RHC);
L(6, 170, "Wystąpienie burzy"); L(6, 183, "Deszcz: max", "#00a000");
L(49, 194, "średni", "#00a000"); L(6, 205, "Śnieg:", "#1a30d0");
L(49, 205, "max", "#1a30d0"); L(49, 216, "średni", "#1a30d0");
L(6, 228, "Wystąpienie opadu", "#ff0000"); L(6, 241, "konwekcyjnego", "#ff0000");
L(5, 267, "Ciśnienie"); L(5, 280, "zredukowane"); L(5, 293, "do poziomu morza");
L(5, 322, "Wiatr na 10m:"); L(10, 338, "poryw powyżej skali", "#ff0000");
L(10, 352, "max porywy wiatru", "#ff0000"); L(10, 372, "prędkość wiatru", NAVY);
L(10, 385, "w środku obszaru", NAVY); L(10, 413, "kierunek wiatru", NAVY);
L(6, 433, "Wierzchołek chmur", BROWN);
L(6, 448, "Podstawa chmur*"); L(6, 460, "o pokryciu");
L(11, 472, "> 7.9 okt."); L(11, 484, "> 6.5 okt.", "#505050");
L(10, 495, "> 4.5 okt.", "#999"); L(11, 505, "> 2.5 okt.", "#d4d4d4");
T.append("rect").attr("x", 11).attr("y", 506).attr("width", 44).attr("height", 12).attr("fill", SKY);
L(11, 516, "> 0.1 okt.", "#fff");
L(6, 530, "Widzialność", ORANGE);
L(6, 547, "Chmury:");
T.append("rect").attr("x", 10).attr("y", 551).attr("width", 41).attr("height", 12).attr("fill", SKY);
L(11, 561, "wysokie", "#fff");
L(10, 573, "średnie", "#999"); L(10, 586, "niskie", "#333"); L(10, 598, "bardzo niskie", "#333");
L(6, 610, "Mgła", GOLD);
text(T, 6, 626, "Czas uniwersalny (UTC)");

// ---- leader lines from the legend to the sample panels ----
const leader = (pts, color, w) => T.append("polyline").attr("points", pts.map((p) => p.join(",")).join(" "))
  .attr("fill", "none").attr("stroke", color).attr("stroke-width", w || 1);
leader([[68, 16], [132, 16], [156, 45]], "#000");
leader([[102, 43], [120, 43], [157, 100]], BROWN);
leader([[92, 77], [117, 77]], "#ff0000");
leader([[131, 77], [137, 80], [157, 103]], "#ff0000");
leader([[70, 99], [135, 99]], "#0000ff");
leader([[95, 121], [120, 121], [136, 113]], SLATE);
leader([[102, 137], [137, 137], [146, 147]], "#ff0000");
leader([[106, 151], [112, 151]], RHC);
leader([[130, 151], [143, 163]], RHC);
leader([[100, 166], [112, 166]], "#000");
leader([[130, 166], [134, 166], [139, 172]], "#000");
leader([[72, 179], [139, 179]], "#00a000");
leader([[80, 190], [145, 190]], "#00a000");
leader([[70, 202], [112, 202]], "#1a30d0");
leader([[130, 202], [161, 171]], "#1a30d0");
leader([[81, 213], [130, 213], [161, 181]], "#1a30d0");
leader([[97, 225], [144, 225], [148, 220]], "#ff0000");
leader([[52, 264], [130, 264], [136, 261]], "#000");
leader([[113, 334], [118, 334]], "#ff0000");
leader([[130, 334], [138, 317]], "#ff0000");
leader([[107, 348], [131, 348], [145, 340]], "#ff0000");
leader([[92, 368], [142, 368]], NAVY);
leader([[86, 410], [142, 410]], NAVY);
leader([[100, 430], [133, 430], [185, 447]], BROWN);
leader([[58, 468], [127, 468], [192, 456]], "#000");
leader([[56, 480], [143, 480]], "#505050");
leader([[55, 491], [130, 491], [143, 502]], "#999");
leader([[55, 500], [130, 500], [137, 505]], "#d4d4d4");
leader([[56, 509], [137, 509]], SKY);
leader([[56, 511], [137, 511]], SKY);
leader([[67, 527], [130, 527], [173, 463]], ORANGE);
leader([[54, 556], [186, 556]], SKY);
leader([[54, 558], [186, 558]], SKY);
leader([[50, 571], [192, 571]], "#999");
leader([[37, 582], [122, 582]], "#333");
leader([[130, 582], [137, 584]], "#333");
leader([[74, 594], [146, 594]], "#333");
leader([[27, 605], [215, 605], [219, 601]], GOLD);
leader([[139, 623], [147, 622], [157, 608]], "#000");
</script>
</body>
</html>
